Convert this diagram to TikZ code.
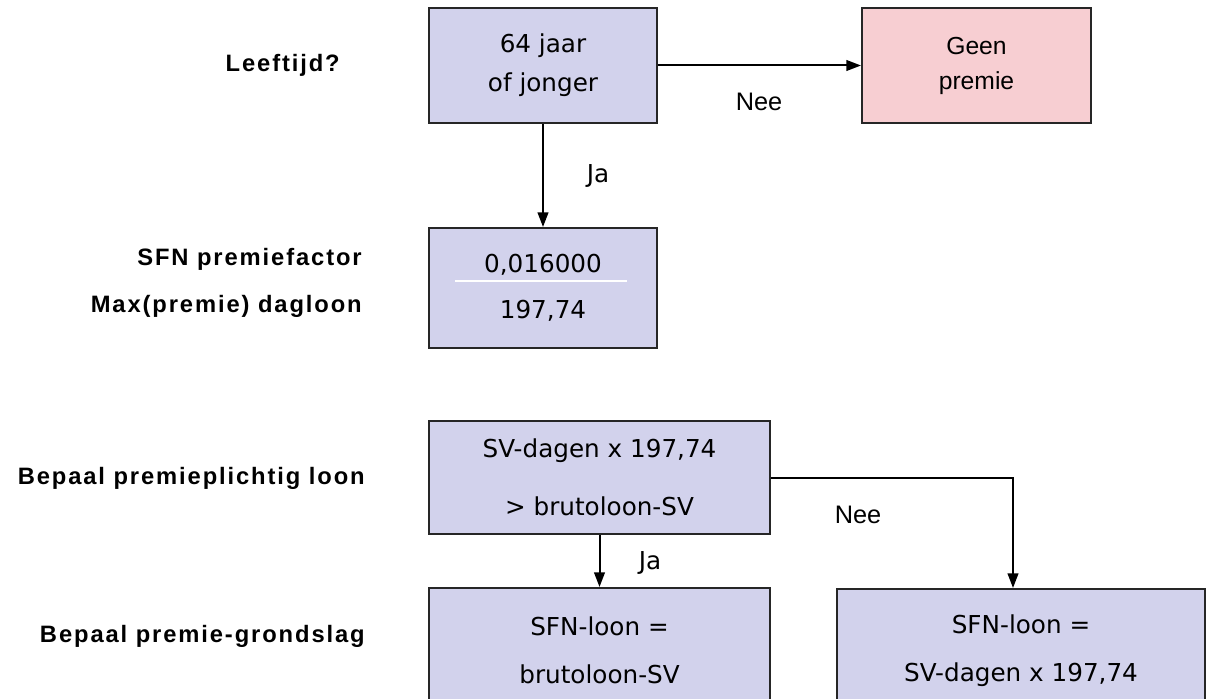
\documentclass[tikz,border=0pt]{standalone}
\usepackage{fontspec}
\setmainfont{DejaVu Sans}
\newfontfamily\arialf{Liberation Sans}
\newfontfamily\arialtr[LetterSpace=8]{Liberation Sans}
\usetikzlibrary{arrows.meta}
\definecolor{lav}{RGB}{210,210,236}
\definecolor{pnk}{RGB}{247,206,210}
\begin{document}
\begin{tikzpicture}[x=0.75pt,y=-0.75pt,
  box/.style={draw=black!85, line width=1.5pt, fill=lav, inner sep=0pt, align=center},
  lbl/.style={font=\arialtr\bfseries\fontsize{17.8}{20}\selectfont, anchor=east, inner sep=0pt},
  edge/.style={line width=1.5pt, -{Triangle[length=11pt,width=8pt]}},
  tagv/.style={inner sep=0pt, font=\fontsize{18.5}{20}\selectfont},
  taga/.style={inner sep=0pt, font=\arialf\fontsize{19}{20}\selectfont}]
\path[use as bounding box, clip] (0,0) rectangle (1210,699);

% boxes
\node[box, minimum width=171pt, minimum height=86.25pt,
      font=\fontsize{18.5}{29.25}\selectfont] (q1) at (543,65.5) {64 jaar\\of jonger};
\node[box, fill=pnk, minimum width=171.75pt, minimum height=86.25pt,
      font=\arialf\fontsize{18.5}{26.25}\selectfont] (geen) at (976.5,65.5) {Geen\\premie};
\node[box, minimum width=171pt, minimum height=90pt,
      font=\fontsize{18.5}{34.5}\selectfont] (sfn) at (543,288) {0,016000\\197,74};
\draw[white, line width=1.5pt] (455,281) -- (627,281);
\node[box, minimum width=255.75pt, minimum height=84.75pt,
      font=\fontsize{18.5}{43.5}\selectfont] (sv) at (599.5,477.5) {SV-dagen x 197,74\\> brutoloon-SV};
\node[box, minimum width=255.75pt, minimum height=93pt,
      font=\fontsize{18.5}{36}\selectfont] (lowL) at (599.5,650) {SFN-loon =\\brutoloon-SV};
\node[box, minimum width=276pt, minimum height=93pt,
      font=\fontsize{18.5}{36}\selectfont] (lowR) at (1021,651) {SFN-loon =\\SV-dagen x 197,74};

% connectors
\draw[edge] (q1) -- (geen);
\draw[edge] (q1) -- (sfn);
\draw[edge] (sv) -- (lowL);
\draw[edge] (sv.east) -| ([xshift=-6pt]lowR.north);

% connector labels
\node[taga] (nee1) at (759,102) {Nee};
\node[tagv] (ja1) at (598,176) {Ja};
\node[tagv] (ja2) at (650,563) {Ja};
\node[taga] (nee2) at (858,515) {Nee};

% left labels
\node[lbl] (l1) at (340,65) {Leeftijd?};
\node[lbl] (l2) at (362,259) {SFN premiefactor};
\node[lbl] (l3) at (362,306) {Max(premie) dagloon};
\node[lbl] (l4) at (365,478) {Bepaal premieplichtig loon};
\node[lbl] (l5) at (365,636) {Bepaal premie-grondslag};
\end{tikzpicture}
\end{document}
